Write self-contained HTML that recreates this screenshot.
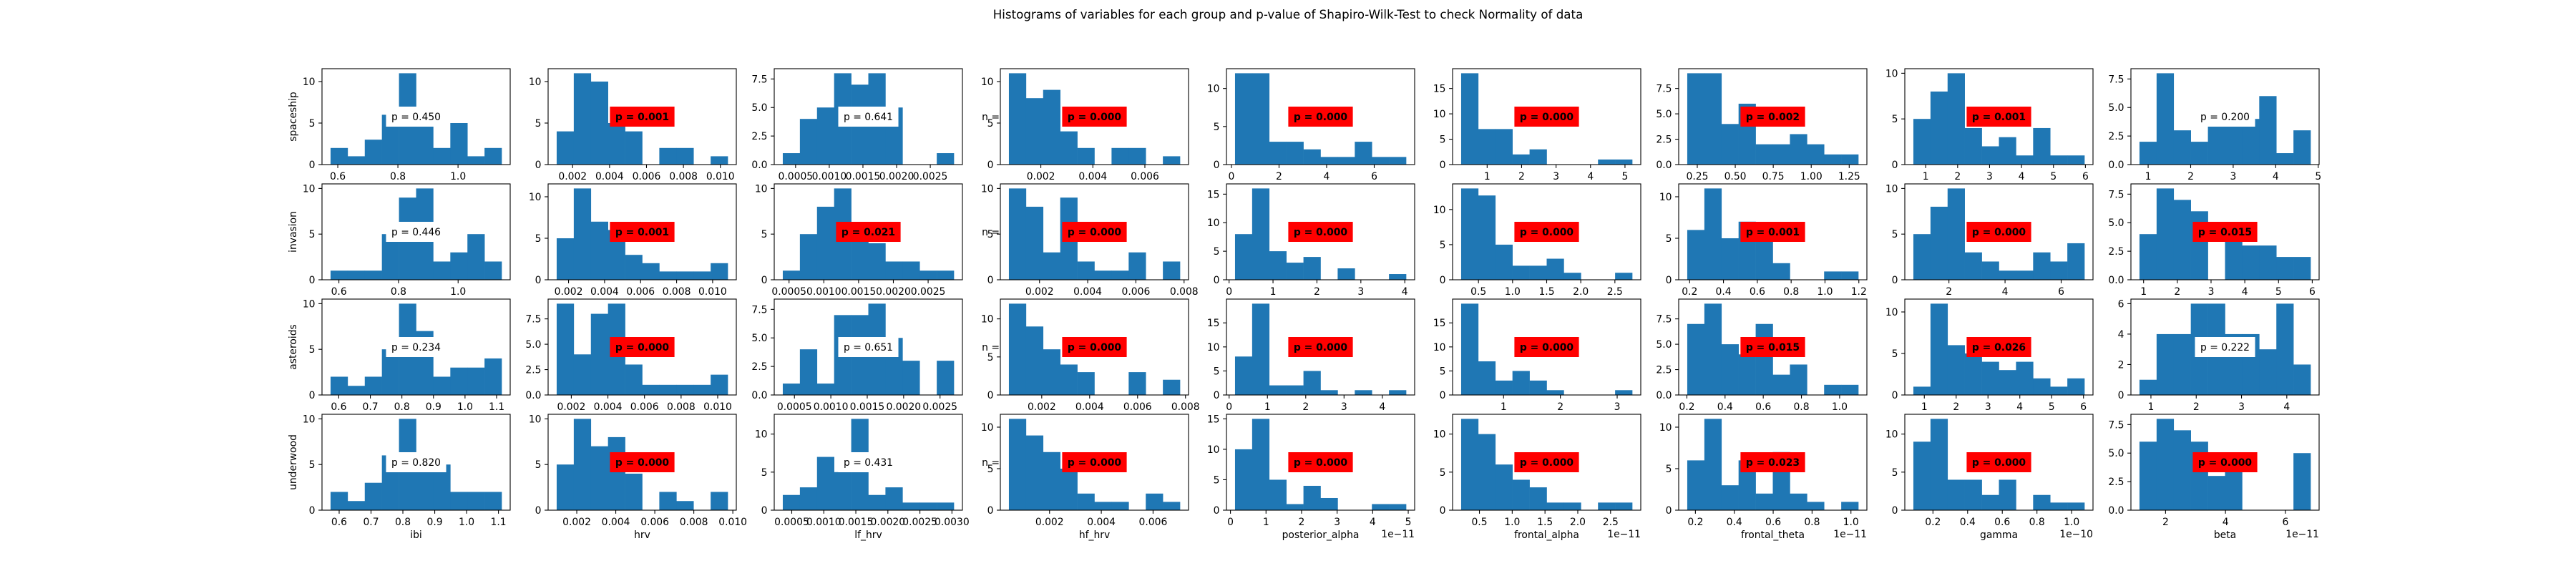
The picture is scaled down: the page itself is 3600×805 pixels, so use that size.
<!DOCTYPE html>
<html><head><meta charset="utf-8"><title>Histograms</title>
<style>
html,body{margin:0;padding:0;background:#fff;}
svg text{font-family:"DejaVu Sans","Liberation Sans",sans-serif;fill:#000;}
</style></head>
<body>
<svg id="fig" xmlns="http://www.w3.org/2000/svg" width="3600" height="800" viewBox="0 0 3600 800">
<rect x="0" y="0" width="3600" height="800" fill="#fff"/>
<text x="1800" y="26" text-anchor="middle" font-size="16.7">Histograms of variables for each group and p-value of Shapiro-Wilk-Test to check Normality of data</text>
</svg>
<script>
const groups = ['spaceship','invasion','asteroids','underwood'];
const variables = ['ibi','hrv','lf_hrv','hf_hrv','posterior_alpha','frontal_alpha','frontal_theta','gamma','beta'];
const offsetLabels = ['','','','','1e\u221211','1e\u221211','1e\u221211','1e\u221210','1e\u221211'];

const pValues = [
  [0.450,0.001,0.641,0.000,0.000,0.000,0.002,0.001,0.200],
  [0.446,0.001,0.021,0.000,0.000,0.000,0.001,0.000,0.015],
  [0.234,0.000,0.651,0.000,0.000,0.000,0.015,0.026,0.222],
  [0.820,0.000,0.431,0.000,0.000,0.000,0.023,0.000,0.000]
];

const countsIbi = [[2,1,3,6,11,5,2,5,1,2],[1,1,1,5,9,10,2,3,5,2],[2,1,2,5,10,7,2,3,3,4],[2,1,3,6,10,5,5,2,2,2]];
const edgesIbi = [[0.576,1.145],[0.572,1.146],[0.574,1.116],[0.573,1.11]];
const xticksIbi = [['0.6','0.8','1.0'],['0.6','0.8','1.0'],['0.6','0.7','0.8','0.9','1.0','1.1'],['0.6','0.7','0.8','0.9','1.0','1.1']];
const yticksIbi = [['0','5','10'],['0','5','10'],['0','5','10'],['0','5','10']];

const countsHrv = [[4,11,10,5,4,0,2,2,0,1],[5,11,7,6,3,2,1,1,1,2],[9,4,8,9,3,1,1,1,1,2],[5,10,7,8,4,0,2,1,0,2]];
const edgesHrv = [[0.001136,0.0104],[0.00134,0.01084],[0.0012,0.01055],[0.00097,0.00974]];
const xticksHrv = [['0.002','0.004','0.006','0.008','0.010'],['0.002','0.004','0.006','0.008','0.010'],['0.002','0.004','0.006','0.008','0.010'],['0.002','0.004','0.006','0.008','0.010']];
const yticksHrv = [['0','5','10'],['0','5','10'],['0.0','2.5','5.0','7.5'],['0','5','10']];

const countsLf = [[1,4,5,8,7,8,5,0,0,1],[1,5,8,10,6,4,2,2,1,1],[1,4,1,7,7,8,5,3,0,3],[2,3,7,5,12,2,3,1,1,1]];
const edgesLf = [[0.00031,0.00285],[0.00041,0.00287],[0.00034,0.00269],[0.00036,0.00303]];
const xticksLf = [['0.0005','0.0010','0.0015','0.0020','0.0025'],['0.0005','0.0010','0.0015','0.0020','0.0025'],['0.0005','0.0010','0.0015','0.0020','0.0025'],['0.0005','0.0010','0.0015','0.0020','0.0025','0.0030']];
const yticksLf = [['0.0','2.5','5.0','7.5'],['0','5','10'],['0.0','2.5','5.0','7.5'],['0','5','10']];

const countsHf = [[11,8,9,4,2,0,2,2,0,1],[10,8,3,9,2,1,1,3,0,2],[12,9,6,4,3,0,0,3,0,2],[11,9,7,5,2,1,1,0,2,1]];
const edgesHf = [[0.000772,0.00735],[0.00073,0.00783],[0.00063,0.00777],[0.00043,0.00704]];
const xticksHf = [['0.002','0.004','0.006'],['0.002','0.004','0.006','0.008'],['0.002','0.004','0.006','0.008'],['0.002','0.004','0.006']];
const yticksHf = [['0','5','10'],['0','5','10'],['0','5','10'],['0','5','10']];

const countsPost = [[12,12,3,3,2,1,1,3,1,1],[8,16,5,3,4,0,2,0,0,1],[8,19,2,2,5,1,0,1,0,1],[10,15,5,1,4,2,0,0,1,1]];
const edgesPost = [[0.15,7.34],[0.135,4.03],[0.154,4.62],[0.128,4.94]];
const xticksPost = [['0','2','4','6'],['0','1','2','3','4'],['0','1','2','3','4'],['0','1','2','3','4','5']];
const yticksPost = [['0','5','10'],['0','5','10','15'],['0','5','10','15'],['0','5','10','15']];

const countsFa = [[18,7,7,2,3,0,0,0,1,1],[13,12,5,2,2,3,1,0,0,1],[19,7,3,5,3,1,0,0,0,1],[12,10,6,4,3,1,1,0,1,1]];
const edgesFa = [[0.245,5.21],[0.246,2.754],[0.253,3.265],[0.221,2.83]];
const xticksFa = [['1','2','3','4','5'],['0.5','1.0','1.5','2.0','2.5'],['1','2','3'],['0.5','1.0','1.5','2.0','2.5']];
const yticksFa = [['0','5','10','15'],['0','5','10'],['0','5','10','15'],['0','5','10']];

const countsFt = [[9,9,4,6,2,2,3,2,1,1],[6,11,5,7,5,2,0,0,1,1],[7,9,5,4,7,2,3,0,1,1],[6,11,3,6,2,7,2,1,0,1]];
const edgesFt = [[0.184,1.31],[0.186,1.197],[0.202,1.098],[0.158,1.038]];
const xticksFt = [['0.25','0.50','0.75','1.00','1.25'],['0.2','0.4','0.6','0.8','1.0','1.2'],['0.2','0.4','0.6','0.8','1.0'],['0.2','0.4','0.6','0.8','1.0']];
const yticksFt = [['0.0','2.5','5.0','7.5'],['0','5','10'],['0.0','2.5','5.0','7.5'],['0','5','10']];

const countsGamma = [[5,8,10,4,2,3,1,4,1,1],[5,8,10,3,2,1,1,3,2,4],[1,11,6,5,4,3,4,2,1,2],[9,12,4,4,2,4,0,2,1,1]];
const edgesGamma = [[0.614,5.97],[0.732,6.83],[0.656,6.03],[0.087,1.074]];
const xticksGamma = [['1','2','3','4','5','6'],['2','4','6'],['1','2','3','4','5','6'],['0.2','0.4','0.6','0.8','1.0']];
const yticksGamma = [['0','5','10'],['0','5','10'],['0','5','10'],['0','5','10']];

const countsBeta = [[2,8,3,2,4,4,4,6,1,3],[4,8,7,6,0,4,3,3,2,2],[1,4,4,6,6,4,4,3,6,2],[6,8,7,6,3,4,0,0,0,5]];
const edgesBeta = [[0.796,4.82],[0.878,5.95],[0.747,4.525],[1.13,6.84]];
const xticksBeta = [['1','2','3','4','5'],['1','2','3','4','5','6'],['1','2','3','4'],['2','4','6']];
const yticksBeta = [['0.0','2.5','5.0','7.5'],['0.0','2.5','5.0','7.5'],['0','2','4','6'],['0.0','2.5','5.0','7.5']];

const allCounts = [countsIbi,countsHrv,countsLf,countsHf,countsPost,countsFa,countsFt,countsGamma,countsBeta];
const allEdges = [edgesIbi,edgesHrv,edgesLf,edgesHf,edgesPost,edgesFa,edgesFt,edgesGamma,edgesBeta];
const allXticks = [xticksIbi,xticksHrv,xticksLf,xticksHf,xticksPost,xticksFa,xticksFt,xticksGamma,xticksBeta];
const allYticks = [yticksIbi,yticksHrv,yticksLf,yticksHf,yticksPost,yticksFa,yticksFt,yticksGamma,yticksBeta];

const NS = 'http://www.w3.org/2000/svg';
const svg = document.getElementById('fig');
const AX_LEFT0 = 450, AX_DX = 316, AX_W = 263, AX_TOP0 = 96, AX_DY = 161, AX_H = 134;
const FS = 13.9;

function mk(tag, attrs, parent) {
  const e = document.createElementNS(NS, tag);
  for (const k in attrs) e.setAttribute(k, attrs[k]);
  (parent || svg).appendChild(e);
  return e;
}

for (let r = 0; r < groups.length; r++) {
  for (let c = 0; c < variables.length; c++) {
    const counts = allCounts[c][r];
    const lo = allEdges[c][r][0], hi = allEdges[c][r][1];
    const xt = allXticks[c][r], yt = allYticks[c][r];
    const L = AX_LEFT0 + c * AX_DX, T = AX_TOP0 + r * AX_DY, B = T + AX_H, R = L + AX_W;
    const span = hi - lo;
    const xmin = lo - 0.05 * span, xmax = hi + 0.05 * span;
    const ymax = Math.max(...counts) * 1.05;
    const xs = v => L + (v - xmin) / (xmax - xmin) * AX_W;
    const ys = v => B - v / ymax * AX_H;

    const g = mk('g', {});
    
    

    const bw = span / counts.length;
    counts.forEach((n, i) => {
      if (n <= 0) return;
      const x0 = xs(lo + i * bw), x1 = xs(lo + (i + 1) * bw);
      const b = mk('rect', {x: x0, y: ys(n), width: x1 - x0 + 0.3, height: B - ys(n), fill: '#1f77b4'}, g);
      
      
    });

    // x ticks
    xt.forEach(lab => {
      const v = parseFloat(lab), x = xs(v);
      mk('line', {x1: x, y1: B, x2: x, y2: B + 4.9, stroke: '#000', 'stroke-width': 1.1}, g);
      const t = mk('text', {x: x, y: B + 21, 'text-anchor': 'middle', 'font-size': FS}, g);
      t.textContent = lab;
      
      
    });
    // y ticks
    yt.forEach(lab => {
      const v = parseFloat(lab), y = ys(v);
      mk('line', {x1: L - 4.9, y1: y, x2: L, y2: y, stroke: '#000', 'stroke-width': 1.1}, g);
      const t = mk('text', {x: L - 9.5, y: y + 5, 'text-anchor': 'end', 'font-size': FS}, g);
      t.textContent = lab;
      
      
    });

    const frame = mk('rect', {x: L, y: T, width: AX_W, height: AX_H, fill: 'none', stroke: '#000', 'stroke-width': 1.1}, g);
    
    

    if (c === 3) {
      const nt = mk('text', {x: L - 1, y: T + AX_H / 2 + 5, 'text-anchor': 'end', 'font-size': FS}, g);
      nt.textContent = 'n =';
      
      
    }

    // p-value box
    const p = pValues[r][c];
    const sig = p < 0.05;
    const cx = L + AX_W / 2, cy = T + AX_H / 2;
    const box = mk('rect', {x: cx - 42, y: cy - 14, width: 84, height: 28, fill: sig ? '#ff0000' : '#ffffff'}, g);
    
    
    const pt = mk('text', {x: cx, y: cy + 5, 'text-anchor': 'middle', 'font-size': FS, 'font-weight': sig ? 'bold' : 'normal'}, g);
    pt.textContent = 'p = ' + p.toFixed(3);
    
    
    const tw = pt.getComputedTextLength ? pt.getComputedTextLength() : 70;
    if (tw > 0) { box.setAttribute('x', cx - tw / 2 - 7.5); box.setAttribute('width', tw + 15); }

    if (c === 0) {
      const rl = mk('text', {x: 0, y: 0, 'text-anchor': 'middle', 'font-size': FS, transform: 'translate(414,' + cy + ') rotate(-90)'}, g);
      rl.textContent = groups[r];
      
      
    }
    if (r === groups.length - 1) {
      const xl = mk('text', {x: cx, y: 752, 'text-anchor': 'middle', 'font-size': FS}, g);
      xl.textContent = variables[c];
      
      
      if (offsetLabels[c]) {
        const ol = mk('text', {x: R, y: 751, 'text-anchor': 'end', 'font-size': FS}, g);
        ol.textContent = offsetLabels[c];
        
        
      }
    }
  }
}
</script>
</body></html>
